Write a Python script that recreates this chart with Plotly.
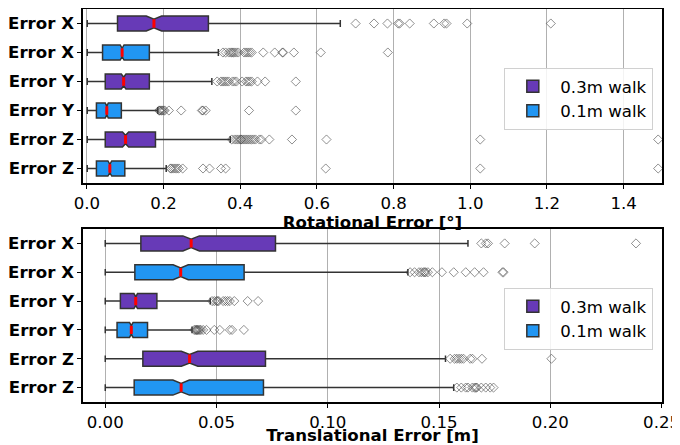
import plotly.graph_objects as go

# ---------------- data ----------------
categories = ["Error X", "Error X", "Error Y", "Error Y", "Error Z", "Error Z"]
walks = ["0.3m walk", "0.1m walk", "0.3m walk", "0.1m walk", "0.3m walk", "0.1m walk"]
walk_names = ["0.3m walk", "0.1m walk"]

# Rotational error [deg]
rot_low = [0.001, 0.001, 0.001, 0.001, 0.001, 0.001]
rot_q1 = [0.080, 0.041, 0.048, 0.025, 0.048, 0.025]
rot_med = [0.175, 0.092, 0.096, 0.052, 0.101, 0.060]
rot_q3 = [0.317, 0.163, 0.163, 0.090, 0.179, 0.099]
rot_high = [0.661, 0.343, 0.326, 0.185, 0.374, 0.207]
rot_notch = [0.020, 0.005, 0.006, 0.004, 0.008, 0.005]
rot_outliers = [
    [0.701, 0.749, 0.784, 0.812, 0.816, 0.842, 0.905, 0.932, 0.938, 0.992, 1.210],
    [0.355, 0.362, 0.370, 0.375, 0.378, 0.382, 0.385, 0.390, 0.395, 0.410, 0.415,
     0.420, 0.425, 0.430, 0.460, 0.490, 0.510, 0.512, 0.540, 0.610, 0.785],
    [0.340, 0.350, 0.355, 0.360, 0.365, 0.370, 0.380, 0.385, 0.390, 0.405, 0.415,
     0.420, 0.425, 0.430, 0.445, 0.465, 0.545],
    [0.188, 0.190, 0.192, 0.195, 0.197, 0.200, 0.203, 0.214, 0.246, 0.300, 0.303,
     0.310, 0.423, 0.545],
    [0.378, 0.385, 0.390, 0.395, 0.400, 0.402, 0.405, 0.410, 0.415, 0.420, 0.425,
     0.430, 0.435, 0.440, 0.450, 0.455, 0.476, 0.535, 0.625, 1.026, 1.490],
    [0.218, 0.220, 0.225, 0.230, 0.235, 0.240, 0.250, 0.303, 0.320, 0.350, 0.362,
     0.623, 1.026, 1.490],
]

# Translational error [m]
tr_low = [0.0, 0.0, 0.0, 0.0, 0.0, 0.0]
tr_q1 = [0.0160, 0.0133, 0.0068, 0.0053, 0.0169, 0.0130]
tr_med = [0.0386, 0.0339, 0.0137, 0.0117, 0.0379, 0.0341]
tr_q3 = [0.0765, 0.0624, 0.0232, 0.0190, 0.0720, 0.0711]
tr_high = [0.1630, 0.1360, 0.0472, 0.0390, 0.1529, 0.1566]
tr_notch = [0.0037, 0.0034, 0.0008, 0.0008, 0.0037, 0.0037]
tr_outliers = [
    [0.169, 0.171, 0.172, 0.1795, 0.193, 0.2385],
    [0.137, 0.139, 0.141, 0.142, 0.143, 0.1435, 0.144, 0.145, 0.147, 0.1513,
     0.1566, 0.162, 0.166, 0.170, 0.1785, 0.179],
    [0.048, 0.049, 0.050, 0.0505, 0.051, 0.053, 0.054, 0.055, 0.056, 0.058,
     0.064, 0.0687],
    [0.040, 0.0405, 0.041, 0.0412, 0.0415, 0.042, 0.0425, 0.043, 0.044, 0.0455,
     0.049, 0.0515, 0.056, 0.057, 0.0623],
    [0.155, 0.157, 0.158, 0.159, 0.160, 0.161, 0.164, 0.165, 0.1693, 0.2005],
    [0.158, 0.160, 0.162, 0.163, 0.165, 0.166, 0.1665, 0.167, 0.169, 0.171,
     0.173, 0.1745],
]

rot_ticks = [0.0, 0.2, 0.4, 0.6, 0.8, 1.0, 1.2, 1.4]
tr_ticks = [0.00, 0.05, 0.10, 0.15, 0.20, 0.25]

# ---------------- style ----------------
COLORS = {"0.3m walk": "#673AB7", "0.1m walk": "#2196F3"}
EDGE = "#333333"
BOX_W = 0.52
NOTCH_W = 0.22
FONT = "DejaVu Sans"
FS = 16.6

fig = go.Figure()
positions = list(range(len(categories)))


def add_panel(low, q1, med, q3, high, notch, outliers, xa, ya, legend):
    for wname in walk_names:
        idx = [i for i in positions if walks[i] == wname]
        fig.add_trace(go.Box(
            orientation="h",
            y=[positions[i] for i in idx],
            q1=[q1[i] for i in idx],
            median=[med[i] for i in idx],
            q3=[q3[i] for i in idx],
            lowerfence=[low[i] for i in idx],
            upperfence=[high[i] for i in idx],
            notchspan=[notch[i] for i in idx],
            notched=True, notchwidth=NOTCH_W,
            width=BOX_W, whiskerwidth=0.45,
            fillcolor=COLORS[wname],
            line=dict(color=EDGE, width=1.5),
            boxpoints=False,
            name=wname, legend=legend, showlegend=True,
            xaxis=xa, yaxis=ya, hoverinfo="skip",
        ))
    # red median markers
    fig.add_trace(go.Box(
        orientation="h",
        y=positions, q1=med, median=med, q3=med,
        lowerfence=med, upperfence=med,
        width=BOX_W * (1 - 2 * NOTCH_W), whiskerwidth=0,
        fillcolor="red", line=dict(color="red", width=3),
        boxpoints=False, showlegend=False,
        xaxis=xa, yaxis=ya, hoverinfo="skip",
    ))
    # outliers
    ox, oy = [], []
    for i in positions:
        ox += outliers[i]
        oy += [positions[i]] * len(outliers[i])
    fig.add_trace(go.Scatter(
        x=ox, y=oy, mode="markers",
        marker=dict(symbol="diamond-open", size=7, color="rgba(70,70,70,0.6)",
                    line=dict(width=1)),
        showlegend=False, xaxis=xa, yaxis=ya, hoverinfo="skip",
    ))


add_panel(rot_low, rot_q1, rot_med, rot_q3, rot_high, rot_notch, rot_outliers,
          "x", "y", "legend")
add_panel(tr_low, tr_q1, tr_med, tr_q3, tr_high, tr_notch, tr_outliers,
          "x2", "y2", "legend2")

# the page body adds an 8px margin, so the figure is drawn 8px in
OFF = 8
W, H = 680 - OFF, 445 - OFF
ml, mr, mt, mb = 83 - OFF, 18, 9 - OFF, 43
ph = H - mt - mb
top_dom = [1 - (183 - 9) / ph, 1.0]
bot_dom = [0.0, (402 - 229) / ph]

line_common = dict(
    showline=True, linecolor="black", linewidth=1.5, mirror=True,
    ticks="outside", ticklen=4, tickwidth=1.2, tickcolor="black",
    zeroline=False, automargin=False, ticklabeloverflow="allow",
)
xfont = dict(family=FONT, size=FS, color="black")
yfont = dict(family=FONT, size=FS, color="black", weight="bold")
title_font = dict(family=FONT, size=FS, color="black", weight="bold")

legend_common = dict(
    xanchor="right", yanchor="top", x=0.985,
    bgcolor="rgba(255,255,255,0.85)", bordercolor="#d0d0d0", borderwidth=1,
    font=dict(family=FONT, size=FS), itemwidth=45,
)

fig.update_layout(
    width=W, height=H,
    margin=dict(l=ml, r=mr, t=mt, b=mb, autoexpand=False),
    paper_bgcolor="white", plot_bgcolor="white",
    boxmode="overlay",
    font=dict(family=FONT, size=FS, color="black"),
    xaxis=dict(
        domain=[0, 1], anchor="y", range=[-0.01, 1.5], tickvals=rot_ticks,
        tickformat=".1f", showgrid=True, gridcolor="#b0b0b0", gridwidth=1,
        tickfont=xfont,
        title=dict(text="Rotational Error [°]", standoff=3, font=title_font),
        **line_common,
    ),
    yaxis=dict(
        domain=top_dom, anchor="x", range=[5.5, -0.5],
        tickvals=positions, ticktext=categories, showgrid=False,
        tickfont=yfont, **line_common,
    ),
    xaxis2=dict(
        domain=[0, 1], anchor="y2", range=[-0.01, 0.2502], tickvals=tr_ticks,
        tickformat=".2f", showgrid=True, gridcolor="#b0b0b0", gridwidth=1,
        tickfont=xfont,
        title=dict(text="Translational Error [m]", standoff=3, font=title_font),
        **line_common,
    ),
    yaxis2=dict(
        domain=bot_dom, anchor="x2", range=[5.5, -0.5],
        tickvals=positions, ticktext=categories, showgrid=False,
        tickfont=yfont, **line_common,
    ),
    legend=dict(y=1 - (68 - 9) / ph, **legend_common),
    legend2=dict(y=1 - (288 - 9) / ph, **legend_common),
)

fig.write_html("out.html")
